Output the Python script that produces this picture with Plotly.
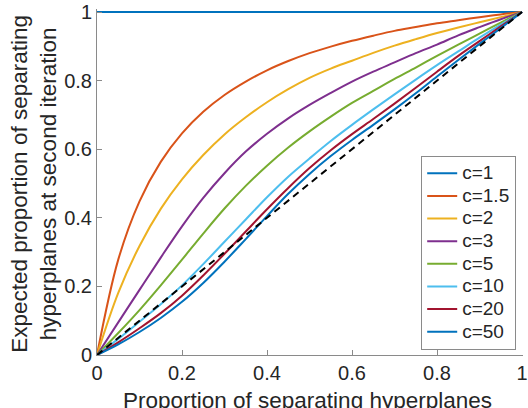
import plotly.graph_objects as go

# Proportion of separating hyperplanes (x) – sample points
x_vals = [0, 0.05, 0.1, 0.15, 0.2, 0.25, 0.3, 0.35, 0.4, 0.45, 0.5,
          0.55, 0.6, 0.65, 0.7, 0.75, 0.8, 0.85, 0.9, 0.95, 1]

c_labels = ["c=1", "c=1.5", "c=2", "c=3", "c=5", "c=10", "c=20", "c=50"]

y_c1 = [1] * 21
y_c1_5 = [0, 0.278, 0.448, 0.563, 0.646, 0.709, 0.758, 0.797, 0.830, 0.857, 0.880,
          0.899, 0.916, 0.931, 0.945, 0.956, 0.967, 0.976, 0.985, 0.993, 1]
y_c2 = [0, 0.181, 0.318, 0.426, 0.512, 0.583, 0.643, 0.693, 0.737, 0.775, 0.808,
        0.835, 0.858, 0.881, 0.902, 0.921, 0.939, 0.955, 0.970, 0.985, 1]
y_c3 = [0, 0.095, 0.19, 0.284, 0.375, 0.458, 0.53, 0.593, 0.645, 0.69, 0.729,
        0.764, 0.797, 0.826, 0.853, 0.88, 0.905, 0.932, 0.956, 0.979, 1]
y_c5 = [0, 0.064, 0.131, 0.203, 0.278, 0.354, 0.427, 0.493, 0.552, 0.605, 0.652,
        0.695, 0.735, 0.77, 0.805, 0.838, 0.872, 0.905, 0.937, 0.969, 1]
y_c10 = [0, 0.047, 0.097, 0.148, 0.203, 0.265, 0.33, 0.395, 0.46, 0.52, 0.573,
         0.624, 0.671, 0.716, 0.76, 0.803, 0.845, 0.885, 0.925, 0.963, 1]
y_c20 = [0, 0.037, 0.078, 0.122, 0.173, 0.232, 0.295, 0.36, 0.425, 0.487, 0.545,
         0.597, 0.644, 0.688, 0.733, 0.779, 0.826, 0.872, 0.915, 0.958, 1]
y_c50 = [0, 0.031, 0.067, 0.108, 0.155, 0.21, 0.272, 0.338, 0.405, 0.47, 0.528,
         0.58, 0.627, 0.671, 0.716, 0.763, 0.812, 0.86, 0.907, 0.953, 1]

diag_x = [0, 1]
diag_y = [0, 1]

series = [y_c1, y_c1_5, y_c2, y_c3, y_c5, y_c10, y_c20, y_c50]
colors = ["#0072BD", "#D95319", "#EDB120", "#7E2F8E", "#77AC30", "#4DBEEE", "#A2142F", "#0072BD"]

tick_vals = [0, 0.2, 0.4, 0.6, 0.8, 1]
tick_text = ["0", "0.2", "0.4", "0.6", "0.8", "1"]

FONT = "Liberation Sans, Arial, Helvetica, sans-serif"
AXIS_GREY = "#8a8a8a"
TEXT = "#262626"

fig = go.Figure()
for lab, ys, col in zip(c_labels, series, colors):
    fig.add_trace(go.Scatter(
        x=x_vals, y=ys, mode="lines",
        name='<span style="font-size:19px">' + lab + "</span>",
        line=dict(color=col, width=2, shape="spline", smoothing=1),
        hoverinfo="skip",
    ))

fig.add_trace(go.Scatter(
    x=diag_x, y=diag_y, mode="lines", showlegend=False,
    line=dict(color="black", width=2, dash="7px,5px"),
    hoverinfo="skip",
))

W, H = 528, 408
ml, mr, mt, mb = 97, 0, 9, 53
pw = W - ml - mr
ph = H - mt - mb

fig.update_layout(
    width=W, height=H,
    margin=dict(l=ml, r=mr, t=mt, b=mb, pad=0),
    paper_bgcolor="white", plot_bgcolor="white",
    font=dict(family=FONT, size=20, color=TEXT),
    showlegend=True,
    legend=dict(
        x=(425 - ml) / pw, xanchor="left",
        y=1 - (156 - mt) / ph, yanchor="top",
        bgcolor="white", bordercolor=AXIS_GREY, borderwidth=1,
        font=dict(family=FONT, size=15.1, color=TEXT),
        tracegroupgap=0,
    ),
    xaxis=dict(
        range=[0, pw / 430], tickvals=tick_vals, ticktext=tick_text,
        showgrid=False, zeroline=False, showline=True, linecolor=AXIS_GREY, linewidth=1,
        ticks="inside", ticklen=5, tickcolor=AXIS_GREY, tickwidth=1,
        tickfont=dict(family=FONT, size=20, color=TEXT),
        ticklabeloverflow="allow",
    ),
    yaxis=dict(
        range=[0, ph / 343], tickvals=tick_vals, ticktext=tick_text,
        showgrid=False, zeroline=False, showline=True, linecolor=AXIS_GREY, linewidth=1,
        ticks="inside", ticklen=5, tickcolor=AXIS_GREY, tickwidth=1,
        tickfont=dict(family=FONT, size=20, color=TEXT),
        ticklabeloverflow="allow",
    ),
    annotations=[
        dict(
            text="Proportion of separating hyperplanes",
            xref="paper", yref="paper",
            x=(310 - ml) / pw, y=1 - (400 - mt) / ph,
            xanchor="center", yanchor="middle", showarrow=False,
            font=dict(family=FONT, size=22.5, color=TEXT),
        ),
        dict(
            text="Expected proportion of separating<br>hyperplanes at second iteration",
            xref="paper", yref="paper",
            x=(33 - ml) / pw, y=1 - (184 - mt) / ph,
            xanchor="center", yanchor="middle", showarrow=False, textangle=-90,
            font=dict(family=FONT, size=22.5, color=TEXT),
        ),
    ],
)

fig.write_html(
    "out.html",
    config={"displayModeBar": False},
    post_script="document.body.style.margin='0px';document.body.style.overflow='hidden';",
)
